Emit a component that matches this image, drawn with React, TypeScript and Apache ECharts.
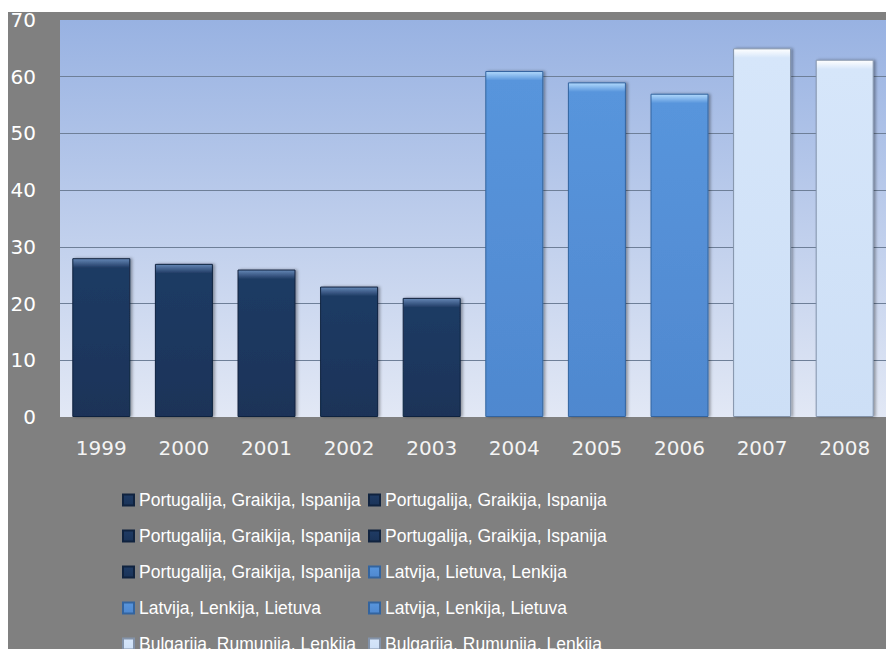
import React, { useEffect, useRef } from "react";
import * as echarts from "echarts";

const years = ["1999", "2000", "2001", "2002", "2003", "2004", "2005", "2006", "2007", "2008"];
const values = [28, 27, 26, 23, 21, 61, 59, 57, 65, 63];
const legendLabels = [
  "Portugalija, Graikija, Ispanija",
  "Portugalija, Graikija, Ispanija",
  "Portugalija, Graikija, Ispanija",
  "Portugalija, Graikija, Ispanija",
  "Portugalija, Graikija, Ispanija",
  "Latvija, Lietuva, Lenkija",
  "Latvija, Lenkija, Lietuva",
  "Latvija, Lenkija, Lietuva",
  "Bulgarija, Rumunija, Lenkija",
  "Bulgarija, Rumunija, Lenkija",
];
const colorGroup = [0, 0, 0, 0, 0, 1, 1, 1, 2, 2];
const yTicks = [0, 10, 20, 30, 40, 50, 60, 70];

const palettes = [
  { light: "#6587b6", main: "#1f3b64", bottom: "#1a3358", border: "#10233f" },
  { light: "#b2dafd", main: "#5895dc", bottom: "#4f88cf", border: "#33649f" },
  { light: "#ffffff", main: "#d6e6fa", bottom: "#cddff6", border: "#8393aa" },
];

export default function App() {
  const ref = useRef<HTMLDivElement>(null);
  useEffect(() => {
    if (!ref.current) return;
    const chart = echarts.init(ref.current, undefined, { renderer: "svg" });
    const pxPerUnit = 397 / 70;
    const series = years.map((y, i) => {
      const p = palettes[colorGroup[i]];
      const h = values[i] * pxPerUnit;
      const hl = Math.min(0.4, 9 / h);
      return {
        name: y,
        type: "bar",
        stack: "all",
        barWidth: 58,
        data: values.map((v, j) => (j === i ? v : "-")),
        itemStyle: {
          color: new echarts.graphic.LinearGradient(0, 0, 0, 1, [
            { offset: 0, color: p.light },
            { offset: hl, color: p.main },
            { offset: 1, color: p.bottom },
          ]),
          borderColor: p.border,
          borderWidth: 1,
          shadowBlur: 3,
          shadowOffsetX: 2,
          shadowColor: "rgba(0,0,0,0.35)",
        },
      };
    });
    const legendBase = {
      orient: "horizontal",
      width: 240,
      padding: 0,
      itemWidth: 11,
      itemHeight: 11,
      itemGap: 18,
      icon: "rect",
      top: 491,
      formatter: (name: string) => legendLabels[years.indexOf(name)],
      textStyle: { color: "#ffffff", fontSize: 17.5, fontFamily: "Liberation Sans" },
      selectedMode: false,
    };
    chart.setOption({
      animation: false,
      backgroundColor: "transparent",
      grid: {
        left: 60,
        right: -6,
        top: 20,
        bottom: 232,
        show: true,
        borderWidth: 0,
        backgroundColor: new echarts.graphic.LinearGradient(0, 0, 0, 1, [
          { offset: 0, color: "#98b2e2" },
          { offset: 1, color: "#e2e8f5" },
        ]),
      },
      xAxis: {
        type: "category",
        data: years,
        axisLine: { show: false },
        axisTick: { show: false },
        axisLabel: { color: "#f4f4f4", fontSize: 20, fontFamily: "DejaVu Sans", margin: 21 },
      },
      yAxis: {
        type: "value",
        min: yTicks[0],
        max: yTicks[yTicks.length - 1],
        interval: 10,
        axisLine: { show: false },
        axisTick: { show: false },
        axisLabel: { color: "#ffffff", fontSize: 20, fontFamily: "DejaVu Sans", margin: 24 },
        splitLine: { show: true, showMaxLine: false, showMinLine: false, lineStyle: { color: "#6e7f98", width: 1 } },
      },
      legend: [
        { ...legendBase, left: 122, data: years.filter((_, i) => i % 2 === 0) },
        { ...legendBase, left: 368, data: years.filter((_, i) => i % 2 === 1) },
      ],
      series,
    });
    return () => chart.dispose();
  }, []);
  return (
    <div style={{ position: "fixed", left: 0, top: 0, width: 886, height: 649, background: "#ffffff", overflow: "hidden" }}>
      <div style={{ position: "absolute", left: 8, top: 12, right: 0, bottom: 0, background: "#808080" }} />
      <div ref={ref} style={{ position: "absolute", left: 0, top: 0, width: 886, height: 649 }} />
    </div>
  );
}
